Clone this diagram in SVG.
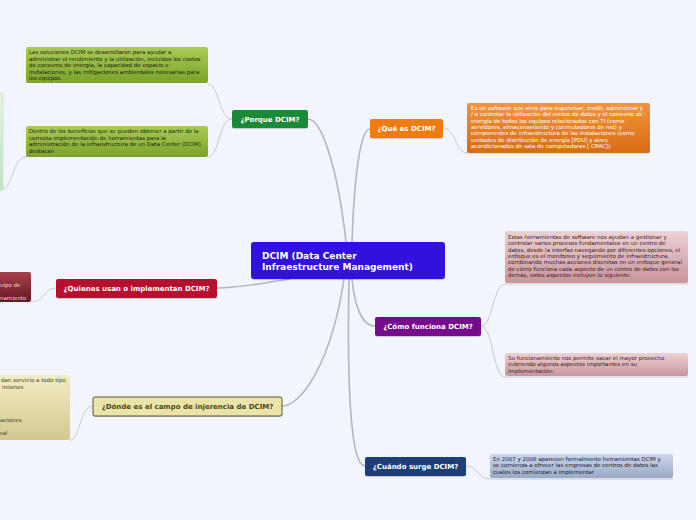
<svg xmlns="http://www.w3.org/2000/svg" width="696" height="520" viewBox="0 0 696 520">
<style>
.topic{font-family:"DejaVu Sans",Verdana,sans-serif;font-weight:bold;font-size:7px;text-anchor:middle;fill:#fff}
.sub{font-family:"DejaVu Sans",Verdana,sans-serif;font-size:5.5px;fill:#22220f}
.subw{font-family:"DejaVu Sans",Verdana,sans-serif;font-size:5.5px;fill:#fff}
.main{fill:none;stroke:#b4b6bc;stroke-width:1.6}
.thin{fill:none;stroke:#c6c9d0;stroke-width:1}
.shadow{fill:#000;opacity:0.18}
</style>
<defs>
<linearGradient id="gGreen" x1="0" y1="0" x2="0" y2="1"><stop offset="0" stop-color="#aacb55"/><stop offset="1" stop-color="#7ca22c"/></linearGradient>
<linearGradient id="gLGreen" x1="0" y1="0" x2="0" y2="1"><stop offset="0" stop-color="#e4f2e2"/><stop offset="1" stop-color="#c6e2c4"/></linearGradient>
<linearGradient id="gOrange" x1="0" y1="0" x2="0" y2="1"><stop offset="0" stop-color="#f29340"/><stop offset="1" stop-color="#d86c14"/></linearGradient>
<linearGradient id="gPink" x1="0" y1="0" x2="0" y2="1"><stop offset="0" stop-color="#ecd2d5"/><stop offset="1" stop-color="#c8959c"/></linearGradient>
<linearGradient id="gBlue" x1="0" y1="0" x2="0" y2="1"><stop offset="0" stop-color="#cdd7ea"/><stop offset="1" stop-color="#98a9c6"/></linearGradient>
<linearGradient id="gRed" x1="0" y1="0" x2="0" y2="1"><stop offset="0" stop-color="#a8404a"/><stop offset="1" stop-color="#641820"/></linearGradient>
<linearGradient id="gYellow" x1="0" y1="0" x2="0" y2="1"><stop offset="0" stop-color="#f2ecc4"/><stop offset="1" stop-color="#d2c890"/></linearGradient>
</defs>
<rect width="696" height="520" fill="#f2f5fd"/>

<g id="connectors">
<path class="main" d="M308,119 C322,119 338,170 346,242"/>
<path class="main" d="M370,129 C360,129 354,180 352,242"/>
<path class="main" d="M352,279 C354,300 360,326 375,326"/>
<path class="main" d="M349,279 C347,380 350,466 365,466"/>
<path class="main" d="M217,288 C240,288 262,283 290,279"/>
<path class="main" d="M282,406 C302,406 332,360 344,279"/>
<path class="thin" d="M208,84 C219,84 219,119 232,119"/>
<path class="thin" d="M208,157 C219,157 219,119 232,119"/>
<path class="thin" d="M26,157 C12,157 14,190 0,190"/>
<path class="thin" d="M443,128 C456,128 455,153 467,153 L650,153"/>
<path class="thin" d="M481,326 C493,326 493,284 505,284 L688,284"/>
<path class="thin" d="M481,326 C493,326 493,377 505,377 L688,377"/>
<path class="thin" d="M466,466 C478,466 478,479 490,479 L673,479"/>
<path class="thin" d="M56,288 C44,288 44,302 31,302"/>
<path class="thin" d="M93,406 C80,406 80,440 70,440"/>
</g>

<g id="center">
<rect x="251" y="243" width="194" height="37" rx="3" class="shadow"/>
<rect x="251" y="242" width="194" height="37" rx="3" fill="#3311dd"/>
<text x="262" y="259" font-family="DejaVu Sans,Verdana,sans-serif" font-weight="bold" font-size="9" fill="#fff">DCIM (Data Center</text>
<text x="262" y="270" font-family="DejaVu Sans,Verdana,sans-serif" font-weight="bold" font-size="9" fill="#fff">Infraestructure Management)</text>
</g>

<g id="porque">
<rect x="232" y="111" width="76" height="18" rx="2" class="shadow"/>
<rect x="232" y="110" width="76" height="18" rx="2" fill="#1b8a38"/>
<text class="topic" x="270" y="122">¿Porque DCIM?</text>
</g>

<g id="que">
<rect x="370" y="120" width="73" height="19" rx="2" class="shadow"/>
<rect x="370" y="119" width="73" height="19" rx="2" fill="#f07c10"/>
<text class="topic" x="406.5" y="131">¿Qué es DCIM?</text>
</g>

<g id="como">
<rect x="375" y="318" width="106" height="19" rx="2" class="shadow"/>
<rect x="375" y="317" width="106" height="19" rx="2" fill="#760b8c"/>
<text class="topic" x="428" y="329">¿Cómo funciona DCIM?</text>
</g>

<g id="cuando">
<rect x="365" y="458" width="101" height="19" rx="2" class="shadow"/>
<rect x="365" y="457" width="101" height="19" rx="2" fill="#1c3f78"/>
<text class="topic" x="415.5" y="469">¿Cuándo surge DCIM?</text>
</g>

<g id="quienes">
<rect x="56" y="280" width="161" height="19" rx="2" class="shadow"/>
<rect x="56" y="279" width="161" height="19" rx="2" fill="#b5102e"/>
<text class="topic" x="136.5" y="291">¿Quienes usan o implementan DCIM?</text>
</g>

<g id="donde">
<rect x="93" y="398" width="189" height="19" rx="2" class="shadow"/>
<rect x="93" y="397" width="189" height="19" rx="2" fill="#ebe4a8" stroke="#5a5530" stroke-width="1"/>
<text class="topic" x="187.5" y="409" style="fill:#4a4520">¿Dónde es el campo de injerencia de DCIM?</text>
</g>

<g id="porque-sub1">
<rect x="26" y="47" width="182" height="36" rx="2" fill="url(#gGreen)"/>
<text class="sub" x="29" y="54">Las soluciones DCIM se desarrollaron para ayudar a</text>
<text class="sub" x="29" y="60.5">administrar el rendimiento y la utilización, incluidos los costos</text>
<text class="sub" x="29" y="67">de consumo de energía, la capacidad de espacio e</text>
<text class="sub" x="29" y="73.5">instalaciones, y las mitigaciones ambientales necesarias para</text>
<text class="sub" x="29" y="80">los equipos.</text>
</g>

<g id="porque-sub2">
<rect x="26" y="126" width="182" height="31" rx="2" fill="url(#gGreen)"/>
<text class="sub" x="29" y="133">Dentro de los beneficios que se pueden obtener a partir de la</text>
<text class="sub" x="29" y="139.5">correcta implementación de herramientas para la</text>
<text class="sub" x="29" y="146">administración de la infraestructura de un Data Center (DCIM)</text>
<text class="sub" x="29" y="152.5">destacan</text>
</g>

<g id="porque-sub2-child">
<rect x="-6" y="92" width="9" height="98" rx="2" fill="url(#gLGreen)" stroke="#c8dcc8" stroke-width="0.6"/>
</g>

<g id="que-sub">
<rect x="467" y="103" width="183" height="50" rx="2" fill="url(#gOrange)"/>
<text class="subw" x="471" y="110">Es un software que sirve para supervisar, medir, administrar y</text>
<text class="subw" x="471" y="116.3">/ o controlar la utilización del centro de datos y el consumo de</text>
<text class="subw" x="471" y="122.6">energía de todos los equipos relacionados con TI (como</text>
<text class="subw" x="471" y="128.9">servidores, almacenamiento y conmutadores de red) y</text>
<text class="subw" x="471" y="135.2">componentes de infraestructura de las instalaciones (como</text>
<text class="subw" x="471" y="141.5">unidades de distribución de energía [PDU] y aires</text>
<text class="subw" x="471" y="147.8">acondicionados de sala de computadoras [ CRAC]).</text>
</g>

<g id="como-sub1">
<rect x="505" y="231" width="183" height="52" rx="2" fill="url(#gPink)"/>
<text class="sub" x="508" y="239" style="fill:#3a1a20">Estas herramientas de software nos ayudan a gestionar y</text>
<text class="sub" x="508" y="245.3" style="fill:#3a1a20">controlar varios procesos fundamentales en un centro de</text>
<text class="sub" x="508" y="251.6" style="fill:#3a1a20">datos, desde la interfaz navegando por diferentes opciones, el</text>
<text class="sub" x="508" y="257.9" style="fill:#3a1a20">enfoque es el monitoreo y seguimiento de infraestructura,</text>
<text class="sub" x="508" y="264.2" style="fill:#3a1a20">combinando muchas acciones discretas en un enfoque general</text>
<text class="sub" x="508" y="270.5" style="fill:#3a1a20">de cómo funciona cada aspecto de un centro de datos con los</text>
<text class="sub" x="508" y="276.8" style="fill:#3a1a20">demás, estos aspectos incluyen lo siguiente:</text>
</g>

<g id="como-sub2">
<rect x="505" y="353" width="183" height="23" rx="2" fill="url(#gPink)"/>
<text class="sub" x="508" y="360" style="fill:#3a1a20">Su funcionamiento nos permite sacar el mayor provecho</text>
<text class="sub" x="508" y="366.3" style="fill:#3a1a20">cubriendo algunos aspectos importantes en su</text>
<text class="sub" x="508" y="372.6" style="fill:#3a1a20">implementación:</text>
</g>

<g id="cuando-sub">
<rect x="490" y="454" width="183" height="24" rx="2" fill="url(#gBlue)"/>
<text class="sub" x="493" y="461" style="fill:#1a2030">En 2007 y 2008 aparecen formalmente herramientas DCIM y</text>
<text class="sub" x="493" y="467.3" style="fill:#1a2030">se comienza a ofrecer las empresas de centros de datos las</text>
<text class="sub" x="493" y="473.6" style="fill:#1a2030">cuales los comienzan a implementar</text>
</g>

<g id="quienes-sub">
<rect x="-6" y="272" width="37" height="30" rx="2" fill="url(#gRed)"/>
<text class="subw" x="0" y="287" style="fill:#f0d8d8">uipo de</text>
<text class="subw" x="0" y="300" style="fill:#f0d8d8">namiento</text>
</g>

<g id="donde-sub">
<rect x="-6" y="375" width="76" height="65" rx="2" fill="url(#gYellow)"/>
<text class="sub" x="1" y="382" style="fill:#4a4520">dan servicio a todo tipo</text>
<text class="sub" x="2" y="388.5" style="fill:#4a4520">mismos</text>
<text class="sub" x="-1" y="421.5" style="fill:#4a4520">laciones</text>
<text class="sub" x="-1" y="434.5" style="fill:#4a4520">eal</text>
</g>
</svg>
